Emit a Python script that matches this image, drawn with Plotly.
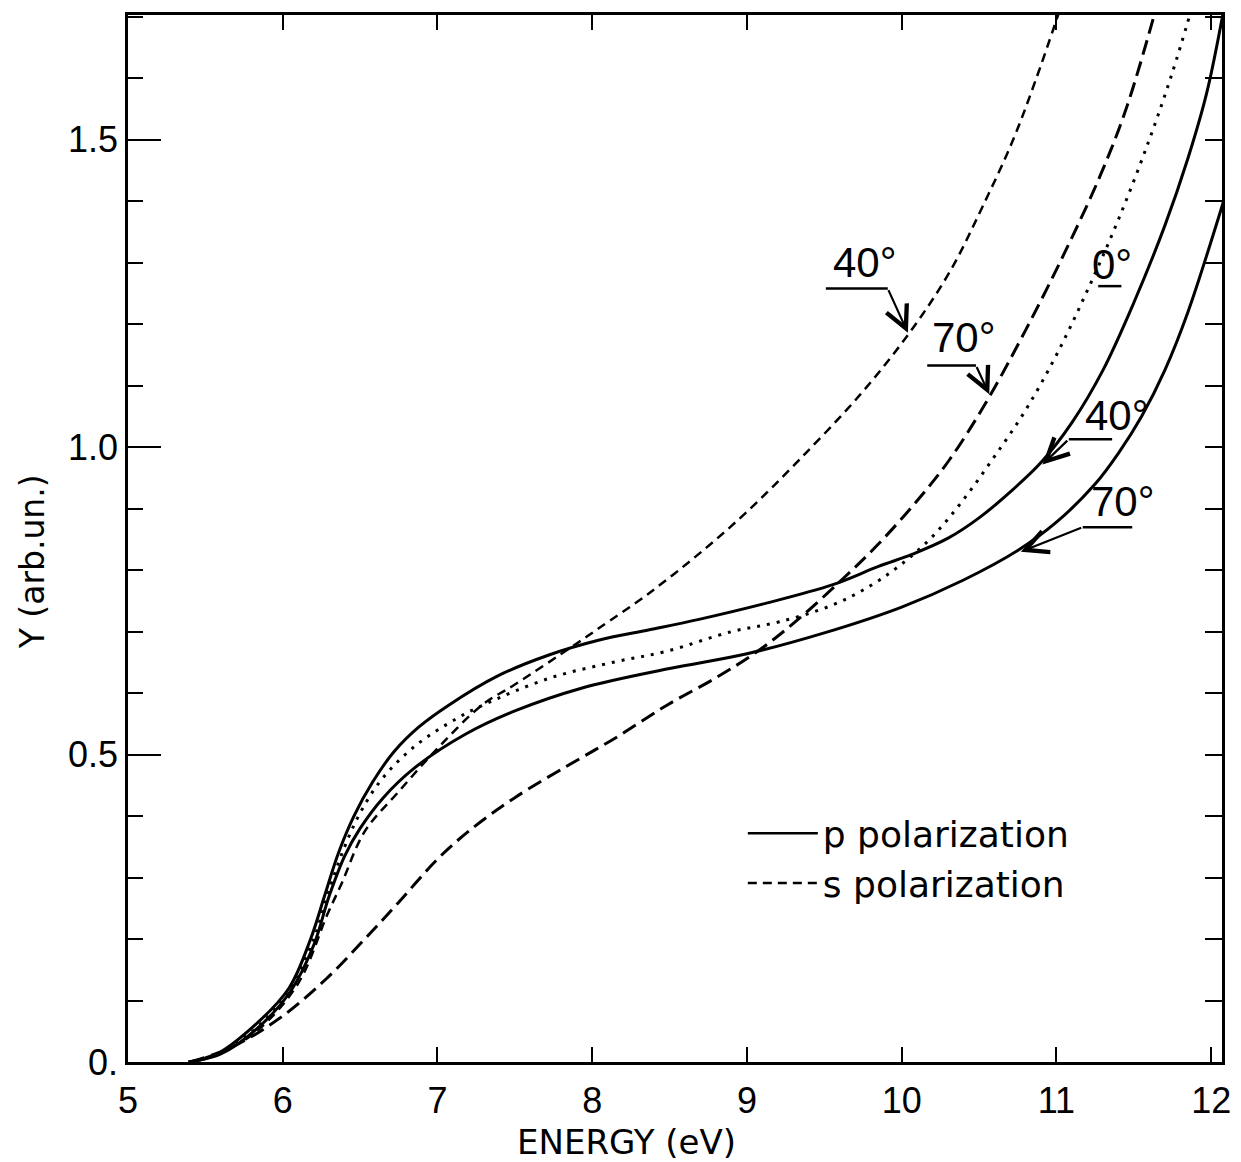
import plotly.graph_objects as go

# ---------------- data ----------------
p40_x = [5.39, 5.56, 5.82, 6.04, 6.18, 6.27, 6.36, 6.46, 6.58, 6.72, 6.88, 7.07, 7.39, 7.72, 8.04,
         8.37, 8.69, 9.12, 9.55, 9.85, 10.07, 10.3, 10.5, 10.7, 10.9, 11.1, 11.3, 11.5, 11.7, 11.85, 11.97, 12.08]
p40_y = [0.0, 0.011, 0.06, 0.12, 0.20, 0.27, 0.34, 0.40, 0.455, 0.505, 0.545, 0.58, 0.628, 0.662, 0.686,
         0.703, 0.72, 0.746, 0.776, 0.806, 0.826, 0.852, 0.885, 0.927, 0.975, 1.04, 1.125, 1.235, 1.36, 1.47, 1.575, 1.71]

p70_x = [5.39, 5.6, 5.85, 6.05, 6.2, 6.3, 6.4, 6.5, 6.65, 6.85, 7.18, 7.5, 7.93, 8.5, 9.0,
         9.5, 10.0, 10.4, 10.75, 11.0, 11.25, 11.4, 11.55, 11.7, 11.85, 12.08]
p70_y = [0.0, 0.013, 0.058, 0.115, 0.19, 0.27, 0.335, 0.38, 0.43, 0.478, 0.533, 0.571, 0.608, 0.64, 0.664,
         0.698, 0.74, 0.784, 0.832, 0.878, 0.94, 0.99, 1.05, 1.125, 1.22, 1.40]

s40_x = [5.40, 5.63, 5.84, 6.10, 6.29, 6.38, 6.53, 6.75, 7.0, 7.29, 7.5, 7.89, 8.04, 8.37, 8.73,
         9.0, 9.34, 9.73, 10.05, 10.31, 10.52, 10.72, 10.87, 11.02]
s40_y = [0.0, 0.019, 0.052, 0.128, 0.241, 0.29, 0.375, 0.44, 0.51, 0.581, 0.614, 0.679, 0.705, 0.763, 0.835,
         0.895, 0.98, 1.085, 1.186, 1.285, 1.39, 1.50, 1.60, 1.71]

s70_x = [5.40, 5.67, 5.99, 6.28, 6.53, 6.75, 7.0, 7.2, 7.5, 7.93, 8.15, 8.48, 8.80, 9.08, 9.34,
         9.62, 9.84, 10.09, 10.31, 10.55, 10.8, 11.06, 11.28, 11.45, 11.64]
s70_y = [0.0, 0.024, 0.073, 0.135, 0.20, 0.26, 0.33, 0.375, 0.43, 0.495, 0.527, 0.58, 0.625, 0.67, 0.722,
         0.786, 0.84, 0.91, 0.98, 1.075, 1.19, 1.32, 1.44, 1.55, 1.71]

d0_x = [5.40, 5.6, 5.85, 6.05, 6.2, 6.3, 6.4, 6.5, 6.64, 6.86, 7.12, 7.29, 7.72, 8.15, 8.48, 8.9,
        9.21, 9.55, 9.8, 10.0, 10.2, 10.4, 10.6, 10.8, 11.0, 11.2, 11.4, 11.6, 11.75, 11.87]
d0_y = [0.0, 0.015, 0.06, 0.12, 0.2, 0.28, 0.35, 0.405, 0.46, 0.515, 0.558, 0.58, 0.624, 0.651, 0.668, 0.70,
        0.716, 0.743, 0.775, 0.81, 0.855, 0.915, 0.985, 1.06, 1.15, 1.255, 1.37, 1.50, 1.61, 1.71]

x_ticks = [5, 6, 7, 8, 9, 10, 11, 12]
y_ticks = [0.0, 0.5, 1.0, 1.5]
y_tick_text = ["0.", "0.5", "1.0", "1.5"]
right_ticks = [round(0.1 * i, 1) for i in range(0, 18)]

# ---------------- styling ----------------
NARROW = "Liberation Sans Narrow, Liberation Sans, Arial, sans-serif"
WIDE = "DejaVu Sans, Verdana, sans-serif"
BLACK = "black"

fig = go.Figure()

fig.add_trace(go.Scatter(x=p40_x, y=p40_y, mode="lines", line=dict(color=BLACK, width=3, shape="spline"),
                         showlegend=False))
fig.add_trace(go.Scatter(x=p70_x, y=p70_y, mode="lines", line=dict(color=BLACK, width=3, shape="spline"),
                         showlegend=False))
fig.add_trace(go.Scatter(x=s40_x, y=s40_y, mode="lines",
                         line=dict(color=BLACK, width=2.5, dash="9px,6px", shape="spline"), showlegend=False))
fig.add_trace(go.Scatter(x=s70_x, y=s70_y, mode="lines",
                         line=dict(color=BLACK, width=3, dash="15px,7px", shape="spline"), showlegend=False))
fig.add_trace(go.Scatter(x=d0_x, y=d0_y, mode="lines",
                         line=dict(color=BLACK, width=3, dash="3px,7px", shape="spline"), showlegend=False))

# legend entries
fig.add_trace(go.Scatter(x=[None], y=[None], mode="lines", name="p polarization",
                         line=dict(color=BLACK, width=2.5)))
fig.add_trace(go.Scatter(x=[None], y=[None], mode="lines", name="s polarization",
                         line=dict(color=BLACK, width=2.5, dash="9px,6px")))
# anchor trace for right-side ticks
fig.add_trace(go.Scatter(x=[None], y=[None], yaxis="y2", showlegend=False, hoverinfo="skip"))

# ---------------- curve labels ----------------
labels = [
    # text, text x, text y, underline x0, x1, y, arrow tail x, y, head x, y
    ("40°", 9.76, 1.30, 9.51, 9.91, 1.258, 9.91, 1.258, 10.04, 1.186),
    ("70°", 10.40, 1.178, 10.165, 10.48, 1.133, 10.48, 1.133, 10.566, 1.086),
    ("40°", 11.39, 1.052, 11.08, 11.36, 1.013, 11.08, 1.013, 10.91, 0.972),
    ("70°", 11.43, 0.911, 11.17, 11.49, 0.870, 11.17, 0.870, 10.77, 0.830),
    ("0°", 11.36, 1.297, 11.27, 11.42, 1.262, None, None, None, None),
]
for t, tx, ty, u0, u1, uy, ax_, ay_, hx, hy in labels:
    fig.add_annotation(x=tx, y=ty, text=t, showarrow=False, xanchor="center", yanchor="middle",
                       font=dict(family=NARROW, size=42, color=BLACK))
    fig.add_shape(type="line", x0=u0, x1=u1, y0=uy, y1=uy, line=dict(color=BLACK, width=2.5))
    if hx is not None:
        fig.add_annotation(x=hx, y=hy, ax=ax_, ay=ay_, axref="x", ayref="y", text="", showarrow=True,
                           arrowhead=5, arrowsize=2.0, arrowwidth=2.2, arrowcolor=BLACK)

# axis titles
fig.add_annotation(xref="paper", yref="paper", x=0.456, y=-0.076, text="ENERGY (eV)", showarrow=False,
                   xanchor="center", yanchor="middle", font=dict(family=WIDE, size=34, color=BLACK))
fig.add_annotation(xref="paper", yref="paper", x=-0.087, y=0.478, text="Y (arb.un.)", showarrow=False,
                   textangle=-90, xanchor="center", yanchor="middle", font=dict(family=WIDE, size=33, color=BLACK))

# the page body adds an 8px offset, so the figure is 8px smaller and margins compensate
fig.update_layout(
    width=1233, height=1154,
    margin=dict(l=120, r=19, t=4, b=100),
    paper_bgcolor="white", plot_bgcolor="white",
    showlegend=True,
    legend=dict(x=0.562, y=0.247, xanchor="left", yanchor="top", bgcolor="rgba(0,0,0,0)",
                font=dict(family=WIDE, size=36, color=BLACK), itemwidth=70, tracegroupgap=0),
    xaxis=dict(range=[5, 12.07], tickvals=x_ticks, ticks="inside", ticklen=15, tickwidth=2, tickcolor=BLACK,
               showline=True, linewidth=2.5, linecolor=BLACK, mirror="ticks", showgrid=False, zeroline=False,
               tickfont=dict(family=NARROW, size=36, color=BLACK), ticklabelstandoff=5),
    yaxis=dict(range=[0, 1.703], tickvals=y_ticks, ticktext=y_tick_text, ticks="inside", ticklen=33, tickwidth=2,
               tickcolor=BLACK, showline=True, linewidth=2.5, linecolor=BLACK, mirror=True, showgrid=False,
               zeroline=False, tickfont=dict(family=NARROW, size=36, color=BLACK), ticklabelstandoff=0,
               minor=dict(dtick=0.1, tick0=0, ticks="inside", ticklen=15, tickwidth=2, tickcolor=BLACK)),
    yaxis2=dict(range=[0, 1.703], overlaying="y", side="right", tickvals=right_ticks, ticks="inside",
                ticklen=17, tickwidth=2, tickcolor=BLACK, showticklabels=False, showgrid=False,
                zeroline=False, showline=False),
)

fig.write_html("out.html")
